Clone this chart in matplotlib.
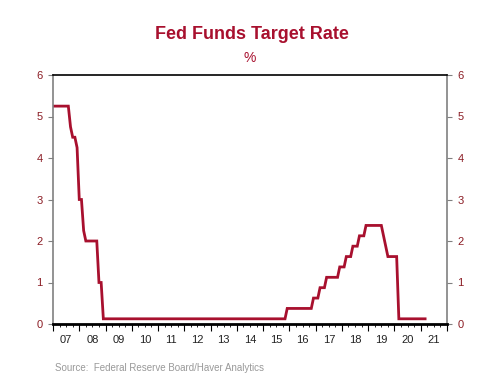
import numpy as np
import matplotlib.pyplot as plt
from matplotlib.ticker import MultipleLocator

plt.rcParams['font.family'] = ['Liberation Sans', 'DejaVu Sans']

# monthly fed funds target (midpoint of range after Dec 2008), Jan 2007 .. Mar 2021
rate_2007 = [5.25, 5.25, 5.25, 5.25, 5.25, 5.25, 5.25, 5.25, 4.75, 4.5, 4.5, 4.25]
rate_2008 = [3.0, 3.0, 2.25, 2.0, 2.0, 2.0, 2.0, 2.0, 2.0, 1.0, 1.0, 0.125]
rate_2009_2014 = [0.125] * 72
rate_2015 = [0.125] * 11 + [0.375]
rate_2016 = [0.375] * 11 + [0.625]
rate_2017 = [0.625, 0.625, 0.875, 0.875, 0.875, 1.125, 1.125, 1.125, 1.125, 1.125, 1.125, 1.375]
rate_2018 = [1.375, 1.375, 1.625, 1.625, 1.625, 1.875, 1.875, 1.875, 2.125, 2.125, 2.125, 2.375]
rate_2019 = [2.375, 2.375, 2.375, 2.375, 2.375, 2.375, 2.375, 2.125, 1.875, 1.625, 1.625, 1.625]
rate_2020 = [1.625, 1.625, 0.125, 0.125, 0.125, 0.125, 0.125, 0.125, 0.125, 0.125, 0.125, 0.125]
rate_2021 = [0.125, 0.125, 0.125]

rates = (rate_2007 + rate_2008 + rate_2009_2014 + rate_2015 + rate_2016 +
         rate_2017 + rate_2018 + rate_2019 + rate_2020 + rate_2021)
dates = 2007 + np.arange(len(rates)) / 12.0

year_labels = ['07', '08', '09', '10', '11', '12', '13', '14', '15', '16',
               '17', '18', '19', '20', '21']

red = '#A8102E'
tick_red = '#8B1C24'

fig = plt.figure(figsize=(5, 3.75), dpi=100)
ax = fig.add_axes([0.106, 0.136, 0.788, 0.664])

ax.plot(dates, rates, color=red, lw=2.0, solid_joinstyle='miter')

ax.set_xlim(2007, 2022)
ax.set_ylim(0, 6)

ax.xaxis.set_major_locator(MultipleLocator(1))
ax.xaxis.set_minor_locator(MultipleLocator(0.25))
ax.set_xticklabels([])
ax.tick_params(axis='x', which='major', length=5, width=0.8, direction='out')
ax.tick_params(axis='x', which='minor', length=2.5, width=0.6, direction='out')
for i, lab in enumerate(year_labels):
    ax.text(2007.5 + i, -0.045, lab, transform=ax.get_xaxis_transform(),
            ha='center', va='top', fontsize=8, color='#222222')

ax.yaxis.set_major_locator(MultipleLocator(1))
ax.tick_params(axis='y', which='both', left=True, right=True,
               labelleft=True, labelright=True, length=3.5, width=0.8,
               labelsize=8, labelcolor=tick_red, color='#808080', pad=4)

ax.spines['left'].set_color('#808080')
ax.spines['right'].set_color('#808080')
ax.spines['left'].set_linewidth(1.2)
ax.spines['right'].set_linewidth(1.2)
ax.spines['top'].set_color('black')
ax.spines['top'].set_linewidth(1.2)
ax.spines['bottom'].set_color('black')
ax.spines['bottom'].set_linewidth(2.0)

fig.text(0.504, 0.908, 'Fed Funds Target Rate', ha='center', va='center',
         fontsize=13, fontweight='bold', color=red)
fig.text(0.5, 0.845, '%', ha='center', va='center', fontsize=10, color=red)
fig.text(0.11, 0.005, 'Source:  Federal Reserve Board/Haver Analytics',
         ha='left', va='bottom', fontsize=7, color='#999999')

fig.savefig('out.png', dpi=100)
